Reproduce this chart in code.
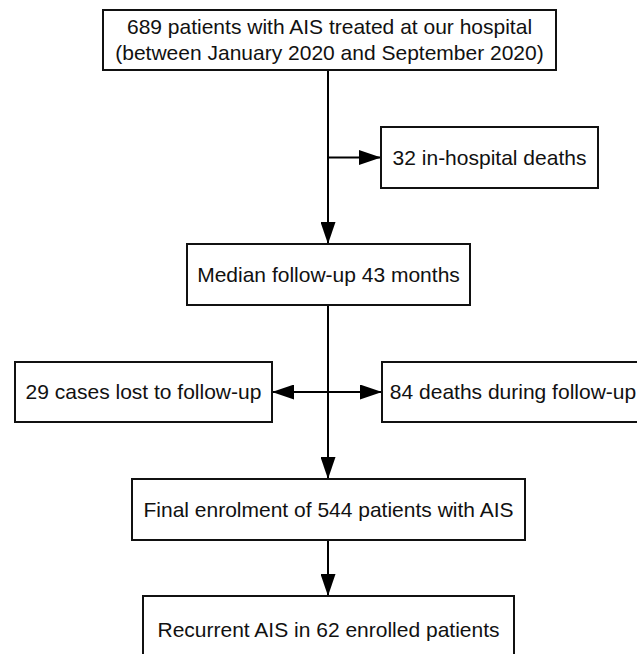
<!DOCTYPE html>
<html>
<head>
<meta charset="utf-8">
<script src="https://cdn.jsdelivr.net/npm/d3@7"></script>
<style>
  body { margin: 0; background: #fff; }
  text { font-family: "Liberation Sans", Arial, Helvetica, sans-serif; fill: #111; }
</style>
</head>
<body>
<div class="container"></div>
<script>
// flowchart text
const mainSteps = [
  ['689 patients with AIS treated at our hospital', '(between January 2020 and September 2020)'],
  ['Median follow-up 43 months'],
  ['Final enrolment of 544 patients with AIS'],
  ['Recurrent AIS in 62 enrolled patients']
];
const exclusions = ['32 in-hospital deaths', '29 cases lost to follow-up', '84 deaths during follow-up'];

const width = 637;
const height = 654;
const spineX = 328;

// box geometry for main steps
const mainBoxes = [
  { x0: 103, x1: 556, y0: 10, y1: 70 },
  { x0: 187, x1: 470, y0: 244, y1: 305 },
  { x0: 132, x1: 525, y0: 479, y1: 540 },
  { x0: 143, x1: 514, y0: 596, y1: 664 }
];
const sideBoxes = [
  { x0: 381, x1: 598, y0: 127, y1: 188, side: 'right' },
  { x0: 15, x1: 272, y0: 362, y1: 422, side: 'left' },
  { x0: 382, x1: 680, y0: 362, y1: 422, side: 'right' }
];

const svg = d3
  .select('.container')
  .append('svg')
  .attr('width', width)
  .attr('height', height);

svg
  .append('defs')
  .append('marker')
  .attr('id', 'head')
  .attr('viewBox', '0 0 22 15')
  .attr('refX', 22)
  .attr('refY', 7.5)
  .attr('markerWidth', 22)
  .attr('markerHeight', 15)
  .attr('markerUnits', 'userSpaceOnUse')
  .attr('orient', 'auto')
  .append('path')
  .attr('d', 'M0,0 L22,7.5 L0,15 Z')
  .attr('fill', '#000');

const links = svg.append('g').attr('class', 'links');

// spine arrows between main steps
for (let i = 0; i < mainBoxes.length - 1; i++) {
  links
    .append('line')
    .attr('x1', spineX)
    .attr('x2', spineX)
    .attr('y1', mainBoxes[i].y1)
    .attr('y2', mainBoxes[i + 1].y0)
    .attr('stroke', '#000')
    .attr('stroke-width', 2)
    .attr('marker-end', 'url(#head)');
}

// side arrows
sideBoxes.forEach(b => {
  const y = (b.y0 + b.y1) / 2;
  links
    .append('line')
    .attr('x1', spineX)
    .attr('x2', b.side === 'right' ? b.x0 : b.x1)
    .attr('y1', y)
    .attr('y2', y)
    .attr('stroke', '#000')
    .attr('stroke-width', 2)
    .attr('marker-end', 'url(#head)');
});

const drawBox = (b, lines) => {
  const g = svg.append('g').attr('class', 'box');
  g.append('rect')
    .attr('x', b.x0)
    .attr('y', b.y0)
    .attr('width', b.x1 - b.x0)
    .attr('height', b.y1 - b.y0)
    .attr('fill', '#fff')
    .attr('stroke', '#111')
    .attr('stroke-width', 2);
  // boxes running off the page keep their text where it was
  const cx = b.x1 > width ? b.x0 + 131 : (b.x0 + b.x1) / 2;
  const cy = b.y1 > height ? b.y0 + 34 : (b.y0 + b.y1) / 2;
  const lh = 26;
  g.selectAll('text')
    .data(lines)
    .enter()
    .append('text')
    .attr('x', cx)
    .attr('y', (d, i) => cy + (i - (lines.length - 1) / 2) * lh)
    .attr('dy', '0.35em')
    .attr('text-anchor', 'middle')
    .attr('font-size', 21)
    .text(d => d);
};

mainBoxes.forEach((b, i) => drawBox(b, mainSteps[i]));
sideBoxes.forEach((b, i) => drawBox(b, [exclusions[i]]));
</script>
</body>
</html>
